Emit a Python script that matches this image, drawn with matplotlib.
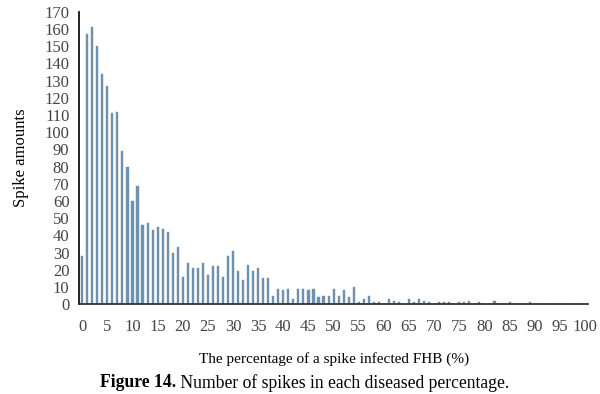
import matplotlib
matplotlib.use("Agg")
import matplotlib.pyplot as plt

# Percentage of the spike infected (0..100) and number of spikes at each value
percent = list(range(0, 101))
spikes = [
    28, 157, 161, 150, 134, 127, 111, 112, 89, 80,
    60, 69, 46, 47, 43, 45, 44, 42, 30, 33,
    16, 24, 21, 21, 24, 17, 22, 22, 16, 28,
    31, 19, 14, 23, 19, 21, 15, 15, 5, 9,
    8, 9, 3, 9, 9, 8, 9, 4, 5, 5,
    9, 5, 8, 4, 10, 1, 3, 5, 1, 1,
    0, 3, 2, 1, 0, 3, 1, 3, 2, 1,
    0, 1, 1, 1, 0, 1, 1, 2, 0, 1,
    0, 0, 2, 0, 0, 1, 0, 0, 0, 1,
    0, 0, 0, 0, 0, 0, 0, 0, 0, 0,
    0,
]
x_ticks = list(range(0, 101, 5))
y_ticks = list(range(0, 171, 10))

SERIF = ["Liberation Serif", "DejaVu Serif"]
BAR_COLOR = "#6b93b5"

fig = plt.figure(figsize=(6.0, 3.94), dpi=100)
ax = fig.add_axes([0.132, 0.228, 0.848, 0.742])

ax.bar(percent, spikes, width=0.42, color=BAR_COLOR, edgecolor="#7c8a96", linewidth=0.3)

ax.set_xlim(-0.6, 100.6)
ax.set_ylim(0, 170)
ax.set_xticks(x_ticks)
ax.set_yticks(y_ticks)
ax.set_xticklabels([str(t) for t in x_ticks], family=SERIF, fontsize=12, color="#444444")
ax.set_yticklabels([str(t) for t in y_ticks], family=SERIF, fontsize=12, color="#444444")
ax.tick_params(axis="x", length=0, pad=11)
ax.tick_params(axis="y", length=0, pad=7)

for side in ("top", "right"):
    ax.spines[side].set_visible(False)
ax.spines["left"].set_color("#111111")
ax.spines["left"].set_linewidth(1.3)
ax.spines["bottom"].set_color("#333333")
ax.spines["bottom"].set_linewidth(1.3)

ax.set_xlabel("The percentage of a spike infected FHB (%)", family=SERIF,
              fontsize=11, labelpad=12)
ax.set_ylabel("Spike amounts", family=SERIF, fontsize=12, labelpad=11)

# Caption: bold "Figure 14." followed by normal text, centred as a whole
cap_y = 0.029
cap_bold = fig.text(0, cap_y, "Figure 14.", family=SERIF, fontsize=12.7,
                    fontweight="bold", ha="left", va="center")
cap_rest = fig.text(0, cap_y, " Number of spikes in each diseased percentage.", family=SERIF,
                    fontsize=12.7, ha="left", va="center")
renderer = fig.canvas.get_renderer()
w_bold = cap_bold.get_window_extent(renderer).width
w_rest = cap_rest.get_window_extent(renderer).width
fig_w = fig.get_figwidth() * fig.dpi
start = (fig_w - (w_bold + w_rest)) / 2 + 5
cap_bold.set_x(start / fig_w)
cap_rest.set_x((start + w_bold) / fig_w)

fig.savefig("out.png", dpi=100)
